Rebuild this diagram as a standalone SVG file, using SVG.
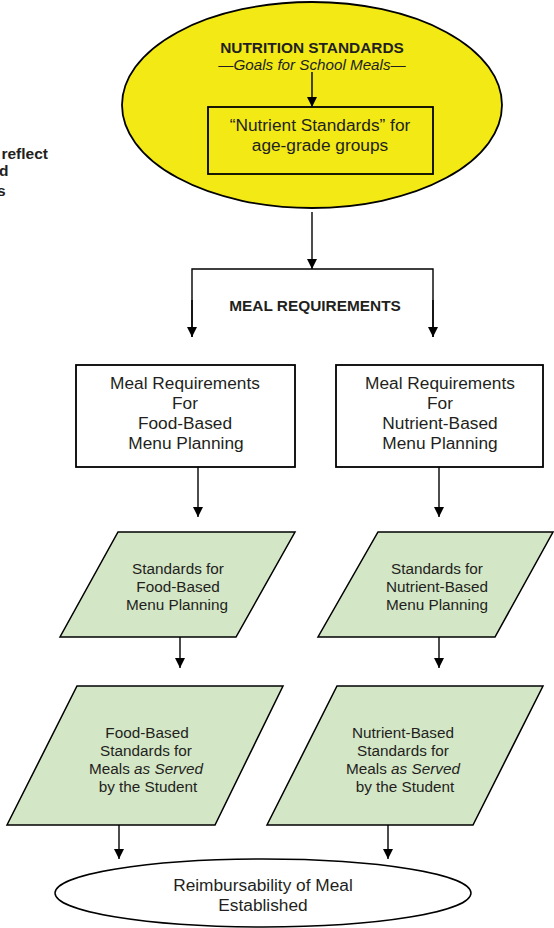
<svg xmlns="http://www.w3.org/2000/svg" width="554" height="928" viewBox="0 0 554 928">
<style>
text{font-family:"Liberation Sans",Arial,sans-serif;fill:#231f20;text-anchor:middle}
.b{font-weight:bold}
.t17{font-size:17.3px}
.t15{font-size:15.3px}
.sh{stroke:#000;stroke-width:1.8}
.para{fill:#d3e6c6;stroke:#000;stroke-width:1.5}
.box{fill:#fff;stroke:#000;stroke-width:1.8}
.ln{fill:none;stroke:#000;stroke-width:1.4}
</style>
<defs>
<marker id="ah" viewBox="0 0 10 10" refX="10" refY="5" markerWidth="10" markerHeight="10" markerUnits="userSpaceOnUse" orient="auto">
<path d="M0,0L10,5L0,10z" fill="#000"/>
</marker>
</defs>
<g id="side-text">
<text class="b" x="48" y="159" style="font-size:15.5px;text-anchor:end">reflect</text>
<text class="b" x="-1" y="176" style="font-size:15.5px;text-anchor:start">d</text>
<text class="b" x="-3" y="196" style="font-size:15.5px;text-anchor:start">s</text>
</g>
<g id="nutrition-standards">
<ellipse cx="312" cy="105" rx="190" ry="103" fill="#f2e915" class="sh"/>
<text class="b" x="312" y="53" style="font-size:15.4px">NUTRITION STANDARDS</text>
<text x="312" y="70" style="font-size:15.2px;font-style:italic">—Goals for School Meals—</text>
</g>
<g id="nutrient-standards">
<rect x="208" y="107" width="225" height="67" fill="none" class="sh"/>
<text class="t17" x="320" y="131">“Nutrient Standards” for</text>
<text class="t17" x="320" y="151">age-grade groups</text>
</g>
<g id="meal-req-label">
<text class="b" x="315" y="311" style="font-size:15.4px">MEAL REQUIREMENTS</text>
</g>
<g id="mr-food">
<rect x="76" y="365" width="219" height="102" class="box"/>
<text class="t17" x="185" y="389">Meal Requirements</text>
<text class="t17" x="185" y="409">For</text>
<text class="t17" x="185" y="429">Food-Based</text>
<text class="t17" x="186" y="449">Menu Planning</text>
</g>
<g id="mr-nutrient">
<rect x="336" y="365" width="207" height="102" class="box"/>
<text class="t17" x="440" y="389">Meal Requirements</text>
<text class="t17" x="440" y="409">For</text>
<text class="t17" x="440" y="429">Nutrient-Based</text>
<text class="t17" x="440" y="449">Menu Planning</text>
</g>
<g id="std-food">
<polygon points="118,532 295,532 236,637 60,637" class="para"/>
<text class="t15" x="178" y="574">Standards for</text>
<text class="t15" x="178" y="592">Food-Based</text>
<text class="t15" x="177" y="610">Menu Planning</text>
</g>
<g id="std-nutrient">
<polygon points="378,532 553,532 495,637 318,637" class="para"/>
<text class="t15" x="437" y="574">Standards for</text>
<text class="t15" x="437" y="592">Nutrient-Based</text>
<text class="t15" x="437" y="610">Menu Planning</text>
</g>
<g id="served-food">
<polygon points="77,686 283,686 215,825 7,825" class="para"/>
<text class="t15" x="147" y="738">Food-Based</text>
<text class="t15" x="146" y="756">Standards for</text>
<text class="t15" x="146" y="774">Meals <tspan font-style="italic">as Served</tspan></text>
<text class="t15" x="148" y="792">by the Student</text>
</g>
<g id="served-nutrient">
<polygon points="337,686 543,686 473,825 267,825" class="para"/>
<text class="t15" x="403" y="738">Nutrient-Based</text>
<text class="t15" x="403" y="756">Standards for</text>
<text class="t15" x="403" y="774">Meals <tspan font-style="italic">as Served</tspan></text>
<text class="t15" x="405" y="792">by the Student</text>
</g>
<g id="reimbursability">
<ellipse cx="263" cy="893" rx="208" ry="34" fill="#fff" stroke="#000" stroke-width="1.5"/>
<text class="t17" x="263" y="891">Reimbursability of Meal</text>
<text class="t17" x="263" y="911">Established</text>
</g>
<g id="connectors">
<line x1="312" y1="72" x2="312" y2="107" class="ln" marker-end="url(#ah)"/>
<line x1="312" y1="212" x2="312" y2="269" class="ln" marker-end="url(#ah)"/>
<polyline points="192,337 192,269 433,269 433,337" class="ln"/>
<line x1="192" y1="300" x2="192" y2="337" class="ln" marker-end="url(#ah)"/>
<line x1="433" y1="300" x2="433" y2="337" class="ln" marker-end="url(#ah)"/>
<line x1="198" y1="467" x2="198" y2="517" class="ln" marker-end="url(#ah)"/>
<line x1="439" y1="467" x2="439" y2="517" class="ln" marker-end="url(#ah)"/>
<line x1="180" y1="637" x2="180" y2="668" class="ln" marker-end="url(#ah)"/>
<line x1="439" y1="637" x2="439" y2="668" class="ln" marker-end="url(#ah)"/>
<line x1="119" y1="825" x2="119" y2="859" class="ln" marker-end="url(#ah)"/>
<line x1="388" y1="825" x2="388" y2="859" class="ln" marker-end="url(#ah)"/>
</g>
</svg>
